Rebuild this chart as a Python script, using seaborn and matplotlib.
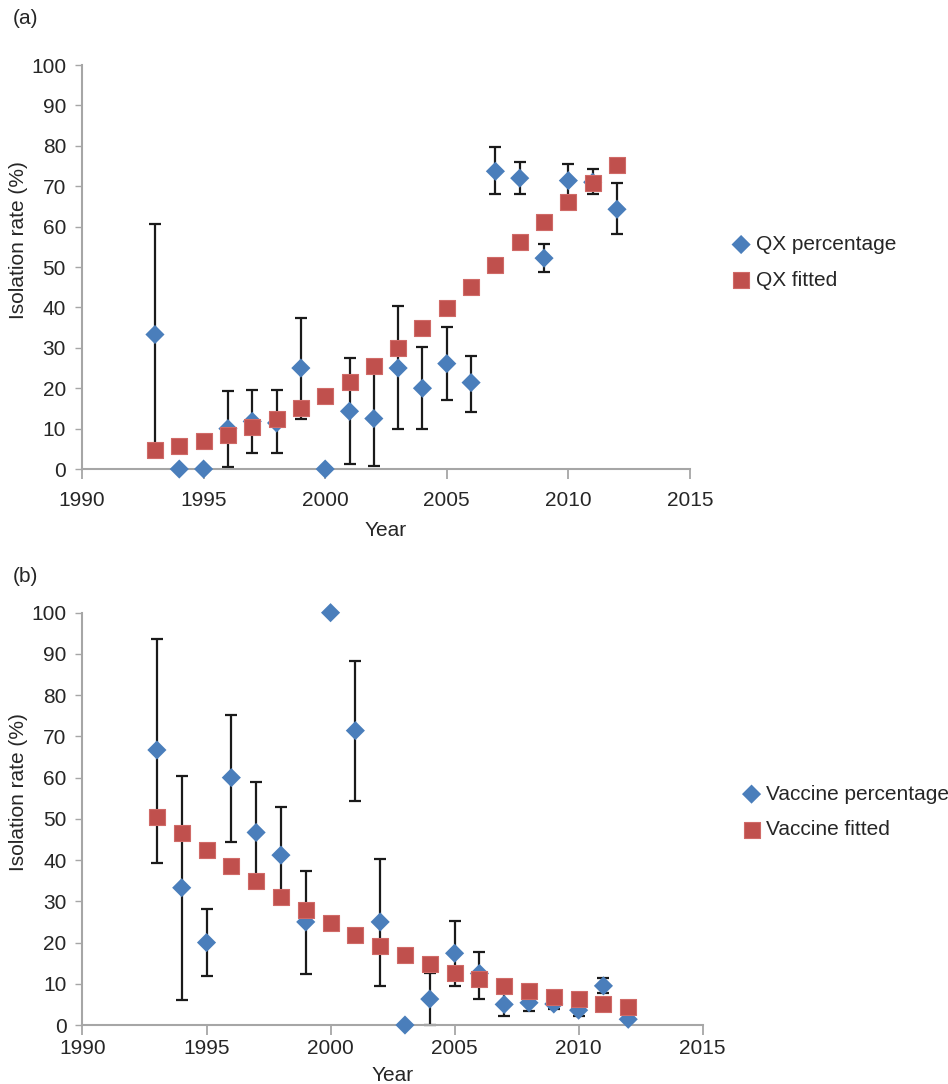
"""
QX / Vaccine isolation rate chart (two panels)
"""
import numpy as np
import pandas as pd
import matplotlib
matplotlib.use('Agg')
import matplotlib.pyplot as plt
import seaborn as sns

# ---- data ----
years = list(range(1993, 2013))

qx_pct = [33.3, 0, 0, 10.0, 11.8, 11.4, 25.0, 0, 14.3, 12.5,
          25.0, 20.0, 26.1, 21.4, 73.7, 72.0, 52.2, 71.4, 71.0, 64.3]
qx_low = [5.9, np.nan, np.nan, 0.4, 4.0, 4.0, 12.5, np.nan, 1.2, 0.8,
          9.8, 9.8, 17.0, 14.2, 68.0, 68.0, 48.8, 67.3, 68.0, 58.2]
qx_high = [60.7, np.nan, np.nan, 19.4, 19.5, 19.5, 37.5, np.nan, 27.4, 24.2,
           40.4, 30.3, 35.1, 28.1, 79.6, 75.9, 55.6, 75.6, 74.2, 70.9]
qx_fit = [4.7, 5.6, 7.0, 8.5, 10.3, 12.4, 15.0, 18.2, 21.6, 25.5,
          29.9, 34.8, 39.9, 45.1, 50.6, 56.1, 61.2, 66.2, 70.9, 75.3]

vac_pct = [66.7, 33.3, 20.0, 60.0, 46.7, 41.2, 25.0, 100, 71.4, 25.0,
           0, 6.3, 17.4, 12.5, 5.0, 5.4, 5.1, 3.6, 9.5, 1.4]
vac_low = [39.4, 6.1, 11.8, 44.3, 34.5, 29.3, 12.4, np.nan, 54.3, 9.5,
           np.nan, 0.0, 9.4, 6.4, 2.2, 3.3, 4.0, 2.2, 7.7, np.nan]
vac_high = [93.7, 60.3, 28.1, 75.2, 58.9, 52.9, 37.3, np.nan, 88.3, 40.2,
            np.nan, 12.6, 25.2, 17.7, 7.8, 7.5, 6.2, 5.0, 11.3, np.nan]
vac_fit = [50.5, 46.6, 42.5, 38.5, 34.9, 31.1, 27.9, 24.7, 21.9, 19.1,
           16.9, 14.7, 12.6, 11.2, 9.5, 8.3, 6.9, 6.2, 5.2, 4.4]

BLUE = '#4A7EBB'
RED = '#C0504D'
GRAY = '#A6A6A6'

sns.set_theme(style='white')
plt.rcParams['font.family'] = ['Liberation Sans', 'DejaVu Sans']


def draw_panel(ax, pct, low, high, fit, name, xpad, xlabelpad, ylab_x):
    df = pd.DataFrame({'year': years, 'pct': pct, 'low': low,
                       'high': high, 'fit': fit})
    eb = df.dropna(subset=['low', 'high'])
    ax.errorbar(eb['year'], eb['pct'],
                yerr=[eb['pct'] - eb['low'], eb['high'] - eb['pct']],
                fmt='none', ecolor='#1a1a1a', elinewidth=1.6,
                capsize=4, capthick=1.6, zorder=2, clip_on=False)
    sns.scatterplot(data=df, x='year', y='pct', ax=ax, marker='D', s=95,
                    color=BLUE, edgecolor='none', zorder=3, clip_on=False,
                    label=f'{name} percentage')
    sns.scatterplot(data=df, x='year', y='fit', ax=ax, marker='s', s=120,
                    color=RED, edgecolor='#D06A67', linewidth=0.8,
                    zorder=4, clip_on=False, label=f'{name} fitted')

    ax.set_xlim(1990, 2015)
    ax.set_ylim(0, 100)
    ax.set_xticks(range(1990, 2016, 5))
    ax.set_yticks(range(0, 101, 10))
    ax.set_xlabel('Year', fontsize=15, labelpad=xlabelpad)
    ax.set_ylabel('Isolation rate (%)', fontsize=15)
    ax.yaxis.set_label_coords(ylab_x, 0.566)
    for side in ['top', 'right']:
        ax.spines[side].set_visible(False)
    for side in ['left', 'bottom']:
        ax.spines[side].set_color(GRAY)
        ax.spines[side].set_linewidth(1.5)
    ax.tick_params(axis='x', direction='out', length=7, width=1.3,
                   color=GRAY, labelsize=15, pad=xpad, bottom=True)
    ax.tick_params(axis='y', direction='out', length=5, width=1.0,
                   color=GRAY, labelsize=15, pad=6.5, left=True)
    ax.get_legend().remove()


fig = plt.figure(figsize=(9.48, 10.84), dpi=100)
ax1 = fig.add_axes([0.0865, 0.5673, 0.6413, 0.3727])
ax2 = fig.add_axes([0.0870, 0.0544, 0.6542, 0.3804])

draw_panel(ax1, qx_pct, qx_low, qx_high, qx_fit, 'QX',
           xpad=9, xlabelpad=7.5, ylab_x=-0.089)
draw_panel(ax2, vac_pct, vac_low, vac_high, vac_fit, 'Vaccine',
           xpad=3, xlabelpad=5.5, ylab_x=-0.088)

# legends to the right of each panel
h1, l1 = ax1.get_legend_handles_labels()
fig.legend(h1, l1, loc='center left', bbox_to_anchor=(0.751, 0.758),
           frameon=False, fontsize=15, handletextpad=0.2, labelspacing=0.8,
           handlelength=1.0)
h2, l2 = ax2.get_legend_handles_labels()
fig.legend(h2, l2, loc='center left', bbox_to_anchor=(0.762, 0.251),
           frameon=False, fontsize=15, handletextpad=0.2, labelspacing=0.8,
           handlelength=1.0)

fig.text(0.013, 0.983, '(a)', fontsize=15, va='center', ha='left')
fig.text(0.013, 0.468, '(b)', fontsize=15, va='center', ha='left')

fig.savefig('out.png', dpi=100)
plt.close(fig)
